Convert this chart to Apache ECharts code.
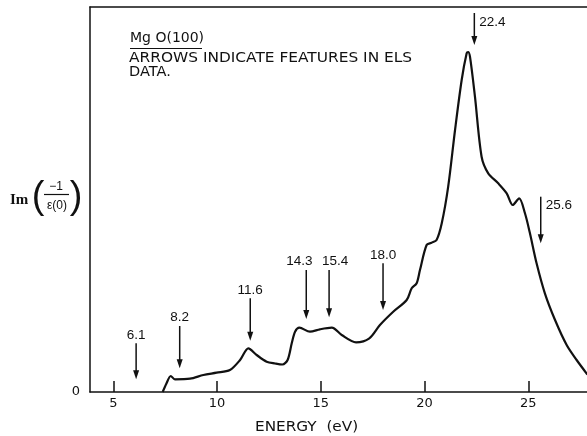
<!DOCTYPE html>
<html>
<head>
<meta charset="utf-8">
<script src="https://cdn.jsdelivr.net/npm/echarts@6/dist/echarts.min.js"></script>
<style>
  html, body { margin: 0; padding: 0; background: #fff; }
  #chart { width: 587px; height: 436px; }
</style>
</head>
<body>
<div id="chart"></div>
<script>
// Loss function Im(-1/eps) of MgO(100) versus energy loss (arbitrary units)
const energy = [7.38, 7.55, 7.77, 7.97, 8.70, 9.34, 9.98, 10.62, 11.11, 11.51, 11.91, 12.39,
  12.80, 13.15, 13.40, 13.60, 13.76, 13.97, 14.48, 14.96, 15.53, 16.01, 16.70, 17.34, 17.85,
  18.49, 19.14, 19.38, 19.62, 19.78, 20.10, 20.34, 20.58, 20.83, 21.14, 21.47, 21.79, 22.03,
  22.10, 22.19, 22.43, 22.75, 23.07, 23.55, 23.96, 24.25, 24.56, 24.84, 25.08, 25.40, 25.80,
  26.29, 26.85, 27.33, 27.85];
const intensity = [0.00, 0.08, 0.16, 0.127, 0.133, 0.17, 0.193, 0.22, 0.32, 0.437, 0.37, 0.303,
  0.285, 0.275, 0.32, 0.487, 0.603, 0.643, 0.603, 0.627, 0.643, 0.57, 0.497, 0.537, 0.67,
  0.803, 0.92, 1.037, 1.087, 1.22, 1.47, 1.493, 1.52, 1.687, 2.053, 2.62, 3.12, 3.387,
  3.40, 3.353, 2.953, 2.353, 2.187, 2.087, 1.987, 1.87, 1.937, 1.787, 1.587, 1.287, 0.987,
  0.72, 0.47, 0.32, 0.175];

// Features seen in the ELS data: energy, arrow tail height, arrow tip height
const featureEnergy = [6.1, 8.2, 11.6, 14.3, 15.4, 18.0, 22.4, 25.6];
const arrowTail = [0.487, 0.66, 0.937, 1.22, 1.22, 1.287, 3.79, 1.953];
const arrowTip = [0.127, 0.237, 0.513, 0.73, 0.747, 0.82, 3.47, 1.487];

const xTickValues = [5, 10, 15, 20, 25];
const yTickValues = [0];

const FONT = 'DejaVu Sans';
const NUMFONT = 'Liberation Sans';
const INK = '#111';
const X_MIN = 3.877, X_MAX = 27.83;

const curve = energy.map((e, i) => [e, intensity[i]]);
const arrows = featureEnergy.map((e, i) => [e, arrowTail[i], arrowTip[i]]);

const chart = echarts.init(document.getElementById('chart'), null, { renderer: 'canvas' });

chart.setOption({
  backgroundColor: '#fff',
  animation: false,
  grid: { left: 90, top: 7, bottom: 44, right: 0, show: false },
  xAxis: [
    {
      type: 'value',
      min: X_MIN, max: X_MAX,
      axisLine: { show: true, onZero: false, lineStyle: { color: INK, width: 1.5 } },
      axisTick: { show: true, inside: true, length: 11, customValues: xTickValues,
        lineStyle: { color: INK, width: 1.5 } },
      axisLabel: { customValues: xTickValues, color: INK, fontFamily: FONT, fontSize: 13, margin: 5 },
      splitLine: { show: false }
    },
    {
      // plain top edge of the frame
      type: 'value', position: 'top',
      min: X_MIN, max: X_MAX,
      axisLine: { show: true, onZero: false, lineStyle: { color: INK, width: 1.5 } },
      axisTick: { show: false }, axisLabel: { show: false }, splitLine: { show: false }
    }
  ],
  yAxis: {
    type: 'value',
    min: 0, max: 3.85,
    axisLine: { show: true, lineStyle: { color: INK, width: 1.5 } },
    axisTick: { show: false },
    axisLabel: { customValues: yTickValues, color: INK, fontFamily: FONT, fontSize: 13, margin: 10 },
    splitLine: { show: false }
  },
  series: [
    {
      type: 'line',
      data: curve,
      smooth: 0.3,
      showSymbol: false,
      lineStyle: { color: INK, width: 2.2 },
      z: 3
    },
    {
      type: 'custom',
      data: arrows,
      z: 4,
      renderItem: function (params, api) {
        const i = params.dataIndex;
        const e = api.value(0);
        const p1 = api.coord([e, api.value(1)]);
        const p2 = api.coord([e, api.value(2)]);
        const head = 9, half = 3;
        const sideLabel = e > 22;
        // nudge crowded labels apart
        let dx = 0;
        if (i + 1 < featureEnergy.length && featureEnergy[i + 1] - e < 1.5) dx = -7;
        if (i > 0 && e - featureEnergy[i - 1] < 1.5) dx = 6;
        return {
          type: 'group',
          children: [
            { type: 'line', shape: { x1: p1[0], y1: p1[1], x2: p2[0], y2: p2[1] - head + 1 },
              style: { stroke: INK, lineWidth: 1.5 } },
            { type: 'polygon', shape: { points: [[p2[0] - half, p2[1] - head], [p2[0] + half, p2[1] - head], [p2[0], p2[1]]] },
              style: { fill: INK } },
            { type: 'text',
              x: sideLabel ? p1[0] + 5 : p1[0] + dx,
              y: sideLabel ? p1[1] + 9 : p1[1] - 8.5,
              style: { text: e.toFixed(1), fill: INK, font: '13.5px "' + NUMFONT + '"',
                align: sideLabel ? 'left' : 'center', verticalAlign: 'middle' } }
          ]
        };
      }
    }
  ],
  graphic: [
    { type: 'text', x: 130, y: 38,
      style: { text: 'Mg O(100)', font: '14px ' + FONT, fill: INK, verticalAlign: 'middle' } },
    { type: 'line', shape: { x1: 130, y1: 48.5, x2: 202, y2: 48.5 }, style: { stroke: INK, lineWidth: 1.2 } },
    { type: 'text', x: 129, y: 58.5, scaleX: 1.14,
      style: { text: 'ARROWS INDICATE FEATURES IN ELS', font: '13.5px ' + FONT, fill: INK, verticalAlign: 'middle' } },
    { type: 'text', x: 129, y: 72.5, scaleX: 1.08,
      style: { text: 'DATA.', font: '13.5px ' + FONT, fill: INK, verticalAlign: 'middle' } },
    { type: 'text', x: 255, y: 427, scaleX: 1.09,
      style: { text: 'ENERGY  (eV)', font: '14px ' + FONT, fill: INK, verticalAlign: 'middle' } },
    // ordinate label Im(-1 / eps(0))
    { type: 'text', x: 10, y: 200,
      style: { text: 'Im', font: 'bold 15px "Liberation Serif"', fill: INK, verticalAlign: 'middle' } },
    { type: 'text', x: 38, y: 198,
      style: { text: '(', font: '38px "Liberation Sans"', fill: INK, align: 'center', verticalAlign: 'middle' } },
    { type: 'text', x: 56, y: 187,
      style: { text: '−1', font: '12px ' + NUMFONT, fill: INK, align: 'center', verticalAlign: 'middle' } },
    { type: 'line', shape: { x1: 44, y1: 194.5, x2: 69, y2: 194.5 }, style: { stroke: INK, lineWidth: 1.2 } },
    { type: 'text', x: 57, y: 206,
      style: { text: 'ε(0)', font: '12px ' + NUMFONT, fill: INK, align: 'center', verticalAlign: 'middle' } },
    { type: 'text', x: 76, y: 198,
      style: { text: ')', font: '38px "Liberation Sans"', fill: INK, align: 'center', verticalAlign: 'middle' } }
  ]
});
</script>
</body>
</html>
